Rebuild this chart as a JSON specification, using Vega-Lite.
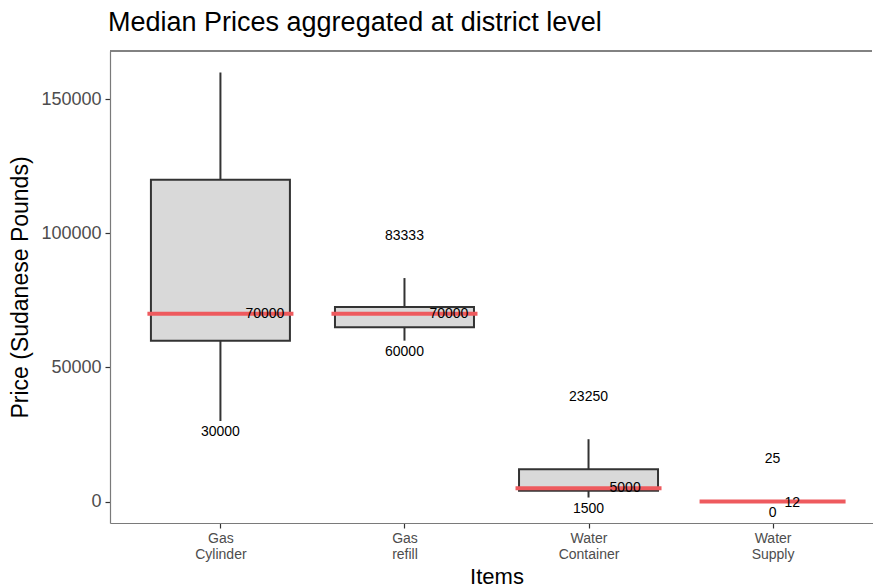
{
  "$schema": "https://vega.github.io/schema/vega-lite/v6.json",
  "width": 762,
  "height": 472,
  "autosize": {"type": "none"},
  "padding": {"left": 110, "top": 51, "right": 1, "bottom": 64},
  "title": {
    "text": "Median Prices aggregated at district level",
    "anchor": "start",
    "frame": "group",
    "fontSize": 27,
    "font": "Liberation Sans",
    "fontWeight": "normal",
    "color": "black",
    "baseline": "alphabetic",
    "offset": 19,
    "dx": -2,
    "dy": 27
  },
  "config": {
    "view": {"stroke": null},
    "font": "Liberation Sans",
    "axis": {"labelFont": "Liberation Sans", "titleFont": "Liberation Sans"}
  },
  "data": {
    "values": [
      {"item": "Gas Cylinder", "min": 30000, "q1": 60000, "median": 70000, "q3": 120000, "max": 160000},
      {"item": "Gas refill", "min": 60000, "q1": 65000, "median": 70000, "q3": 72500, "max": 83333},
      {"item": "Water Container", "min": 1500, "q1": 4000, "median": 5000, "q3": 12000, "max": 23250},
      {"item": "Water Supply", "min": 0, "q1": 6, "median": 12, "q3": 18, "max": 25}
    ]
  },
  "layer": [
    {
      "mark": {"type": "rule", "color": "#7a7a7a", "strokeWidth": 1.2},
      "encoding": {
        "y": {
          "datum": 168000,
          "type": "quantitative",
          "scale": {"domain": [-8000, 168000], "nice": false, "zero": false},
          "axis": {
            "title": "Price (Sudanese Pounds)",
            "values": [0, 50000, 100000, 150000],
            "format": "d",
            "labelFontSize": 18,
            "labelColor": "#4d4d4d",
            "tickSize": 5,
            "tickColor": "#333333",
            "tickWidth": 1.2,
            "labelPadding": 4,
            "domainColor": "#7a7a7a",
            "domainWidth": 1.2,
            "gridColor": "#ebebeb",
            "gridWidth": 1,
            "titleFontSize": 23,
            "titleFontWeight": "normal",
            "titleColor": "black",
            "titlePadding": 8
          }
        }
      }
    },
    {
      "mark": {"type": "rule", "color": "#333333", "strokeWidth": 2},
      "encoding": {
        "x": {
          "field": "item",
          "type": "nominal",
          "sort": null,
          "scale": {"type": "point", "padding": 0.6, "range": [0, 773]},
          "axis": {
            "title": "Items",
            "labelExpr": "split(datum.label, ' ')",
            "labelAngle": 0,
            "labelFontSize": 14,
            "labelColor": "#4d4d4d",
            "labelLineHeight": 16,
            "labelPadding": 3,
            "tickSize": 5,
            "tickColor": "#333333",
            "tickWidth": 1.2,
            "domainColor": "#7a7a7a",
            "domainWidth": 1.2,
            "grid": false,
            "titleFontSize": 22,
            "titleFontWeight": "normal",
            "titleColor": "black",
            "titlePadding": 5
          }
        },
        "y": {"field": "min", "type": "quantitative"},
        "y2": {"field": "max"}
      }
    },
    {
      "mark": {"type": "bar", "width": 139, "fill": "#d9d9d9", "stroke": "#333333", "strokeWidth": 2},
      "encoding": {
        "x": {"field": "item", "type": "nominal", "sort": null},
        "y": {"field": "q1", "type": "quantitative"},
        "y2": {"field": "q3"}
      }
    },
    {
      "mark": {"type": "tick", "size": 146, "thickness": 4, "color": "#EE5A5E", "opacity": 1},
      "encoding": {
        "x": {"field": "item", "type": "nominal", "sort": null},
        "y": {"field": "median", "type": "quantitative"}
      }
    },
    {
      "transform": [{"filter": "datum.item !== 'Gas Cylinder'"}],
      "mark": {"type": "text", "fontSize": 14, "color": "black", "baseline": "middle", "dy": -42, "clip": true},
      "encoding": {
        "x": {"field": "item", "type": "nominal", "sort": null},
        "y": {"field": "max", "type": "quantitative"},
        "text": {"field": "max", "type": "quantitative", "format": "d"}
      }
    },
    {
      "mark": {"type": "text", "fontSize": 14, "color": "black", "baseline": "middle", "dy": 11},
      "encoding": {
        "x": {"field": "item", "type": "nominal", "sort": null},
        "y": {"field": "min", "type": "quantitative"},
        "text": {"field": "min", "type": "quantitative", "format": "d"}
      }
    },
    {
      "transform": [{"filter": "indexof(datum.item, 'Gas') === 0"}],
      "mark": {"type": "text", "fontSize": 14, "color": "black", "baseline": "middle", "align": "left", "dx": 25},
      "encoding": {
        "x": {"field": "item", "type": "nominal", "sort": null},
        "y": {"field": "median", "type": "quantitative"},
        "text": {"field": "median", "type": "quantitative", "format": "d"}
      }
    },
    {
      "transform": [{"filter": "datum.item === 'Water Container'"}],
      "mark": {"type": "text", "fontSize": 14, "color": "black", "baseline": "middle", "align": "left", "dx": 21},
      "encoding": {
        "x": {"field": "item", "type": "nominal", "sort": null},
        "y": {"field": "median", "type": "quantitative"},
        "text": {"field": "median", "type": "quantitative", "format": "d"}
      }
    },
    {
      "transform": [{"filter": "datum.item === 'Water Supply'"}],
      "mark": {"type": "text", "fontSize": 14, "color": "black", "baseline": "middle", "align": "left", "dx": 12, "dy": 1},
      "encoding": {
        "x": {"field": "item", "type": "nominal", "sort": null},
        "y": {"field": "median", "type": "quantitative"},
        "text": {"field": "median", "type": "quantitative", "format": "d"}
      }
    }
  ]
}
